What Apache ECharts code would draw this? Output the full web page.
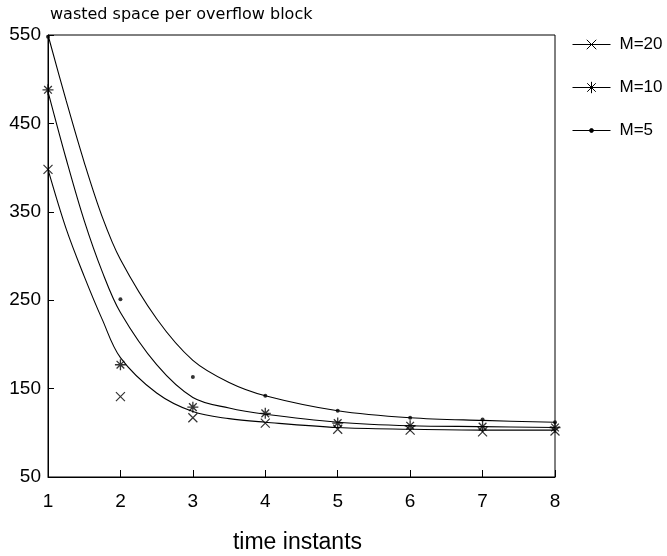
<!DOCTYPE html>
<html>
<head>
<meta charset="utf-8">
<script src="https://cdn.jsdelivr.net/npm/echarts@6/dist/echarts.min.js"></script>
<style>
html,body{margin:0;padding:0;background:#fff;}
#chart{width:667px;height:556px;}
</style>
</head>
<body>
<div id="chart"></div>
<script>
// time instants
var timeInstants = [1, 2, 3, 4, 5, 6, 7, 8];
// observed points
var pointsM20 = [398, 141, 117, 111, 104, 103, 101, 102];
var pointsM10 = [488, 177, 129, 122, 111, 108, 107, 106];
var pointsM5  = [548, 251, 163, 142, 125, 117, 115, 112];
// fitted curves
var curveX   = [1, 1.25, 1.5, 1.75, 2, 2.5, 3, 3.5, 4, 5, 6, 7, 8];
var curveM20 = [398, 331, 277, 228, 185, 145, 124, 116, 112, 106, 104, 103, 103];
var curveM10 = [486, 410, 340, 282, 236, 177, 140, 128, 121, 112, 108, 107, 106];
var curveM5  = [550, 476, 406, 344, 296, 229, 182, 157, 142, 125, 117, 114, 112];
var seriesNames = ['M=20', 'M=10', 'M=5'];

var symX = 'path://M0 0 L10 10 M10 0 L0 10';
var symStar = 'path://M5 0 L5 10 M0 5 L10 5 M1.5 1.5 L8.5 8.5 M8.5 1.5 L1.5 8.5';
var iconX = 'path://M0 6 L40 6 M15 1 L25 11 M25 1 L15 11 M0 0 M0 12';
var iconStar = 'path://M0 6 L40 6 M20 0 L20 12 M14 6 L26 6 M15.5 1.5 L24.5 10.5 M24.5 1.5 L15.5 10.5';
var iconDot = 'path://M0 6 L40 6 M18 6 A2 2 0 1 1 22 6 A2 2 0 1 1 18 6 Z M0 0 M0 12';
var FONT = 'Liberation Sans';

function zip(xs, ys){ return xs.map(function(x,i){ return [x, ys[i]]; }); }

var lineStyle = {color:'#000', width:1.1};
var legendItemStyle = {color:'#000', borderColor:'#000', borderWidth:1};
var option = {
  backgroundColor:'#fff',
  animation:false,
  title:{
    text:'wasted space per overflow block',
    left:45, top:2,
    textStyle:{fontFamily:'DejaVu Sans', fontSize:16, fontWeight:'normal', color:'#000'}
  },
  legend:{
    orient:'vertical',
    left:567, top:31,
    itemGap:26,
    itemWidth:38, itemHeight:12,
    data:[
      {name:seriesNames[0], icon:iconX, itemStyle:legendItemStyle},
      {name:seriesNames[1], icon:iconStar, itemStyle:legendItemStyle},
      {name:seriesNames[2], icon:iconDot, itemStyle:legendItemStyle}
    ],
    textStyle:{fontFamily:FONT, fontSize:17, color:'#000', padding:[0,0,0,4]}
  },
  grid:{left:48, right:112, top:35, bottom:79, containLabel:false, outerBoundsMode:'none',
        show:true, borderColor:'#000', borderWidth:1, backgroundColor:'transparent'},
  xAxis:{
    type:'value', min:1, max:8, interval:1,
    name:'time instants', nameLocation:'middle', nameGap:54,
    nameTextStyle:{fontFamily:FONT, fontSize:23, color:'#000', padding:[0,8,0,0]},
    axisLine:{lineStyle:{color:'#000', width:1}},
    axisTick:{inside:true, length:7, lineStyle:{color:'#000'}},
    axisLabel:{fontFamily:FONT, fontSize:19, color:'#000', margin:15},
    splitLine:{show:false}
  },
  yAxis:{
    type:'value', min:50, max:550, interval:100,
    axisLine:{show:true, lineStyle:{color:'#000', width:1}},
    axisTick:{show:true, inside:true, length:6, lineStyle:{color:'#000'}},
    axisLabel:{fontFamily:FONT, fontSize:19, color:'#000', margin:7},
    splitLine:{show:false}
  },
  series:[
    {name:'M=20', type:'line', data:zip(curveX, curveM20), smooth:0.35,
     showSymbol:false, lineStyle:lineStyle, itemStyle:{color:'#000'}},
    {name:'M=10', type:'line', data:zip(curveX, curveM10), smooth:0.35,
     showSymbol:false, lineStyle:lineStyle, itemStyle:{color:'#000'}},
    {name:'M=5', type:'line', data:zip(curveX, curveM5), smooth:0.35,
     showSymbol:false, lineStyle:lineStyle, itemStyle:{color:'#000'}},
    {name:'M=20', type:'scatter', data:zip(timeInstants, pointsM20), symbol:symX, symbolSize:9,
     itemStyle:{color:'#000', borderColor:'#000', borderWidth:1.2}},
    {name:'M=10', type:'scatter', data:zip(timeInstants, pointsM10), symbol:symStar, symbolSize:11,
     itemStyle:{color:'#000', borderColor:'#000', borderWidth:1.3}},
    {name:'M=5', type:'scatter', data:zip(timeInstants, pointsM5), symbol:'circle', symbolSize:4,
     itemStyle:{color:'#000'}}
  ]
};
var chart = echarts.init(document.getElementById('chart'), null, {renderer:'canvas'});
chart.setOption(option);
</script>
</body>
</html>
